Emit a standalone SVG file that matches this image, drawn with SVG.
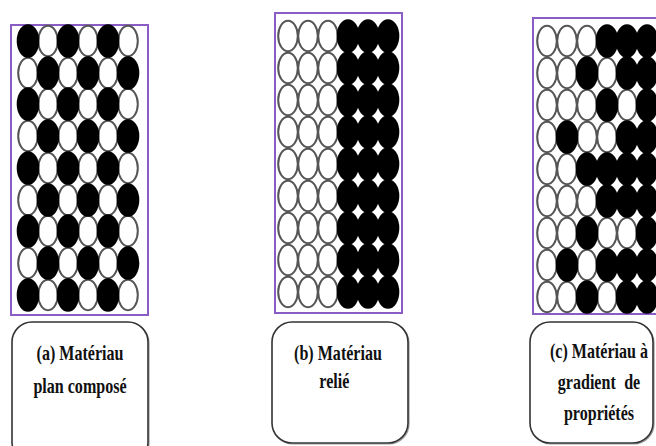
<svg xmlns="http://www.w3.org/2000/svg" xmlns:xlink="http://www.w3.org/1999/xlink" width="656" height="446" viewBox="0 0 656 446">
<style>
.frame{fill:#fff;stroke:#8a5cc6;stroke-width:2}
.box{fill:#fff;stroke:#333;stroke-width:1.6}
.shadow{fill:none;stroke:#999;stroke-width:1.2}
.lbl{font-family:"Liberation Serif","Times New Roman",serif;font-weight:bold;font-size:22px;fill:#111;text-anchor:middle}
.dots{filter:url(#soft)}
</style>
<defs>
<filter id="soft" x="-5%" y="-5%" width="110%" height="110%"><feGaussianBlur stdDeviation="0.6"/></filter>
<ellipse id="w" rx="9.8" ry="15.2" fill="#fff" stroke="#555" stroke-width="2"/>
<ellipse id="b" rx="11.3" ry="16.8" fill="#000"/>
</defs>
<rect width="656" height="446" fill="#fff"/>

<g id="panel-a">
<rect class="frame" x="11" y="25" width="137" height="290"/>
<g class="dots">
<g id="a-white">
<use xlink:href="#w" x="48" y="41"/><use xlink:href="#w" x="88" y="41"/><use xlink:href="#w" x="128" y="41"/>
<use xlink:href="#w" x="28" y="73"/><use xlink:href="#w" x="68" y="73"/><use xlink:href="#w" x="108" y="73"/>
<use xlink:href="#w" x="48" y="104"/><use xlink:href="#w" x="88" y="104"/><use xlink:href="#w" x="128" y="104"/>
<use xlink:href="#w" x="28" y="136"/><use xlink:href="#w" x="68" y="136"/><use xlink:href="#w" x="108" y="136"/>
<use xlink:href="#w" x="48" y="168"/><use xlink:href="#w" x="88" y="168"/><use xlink:href="#w" x="128" y="168"/>
<use xlink:href="#w" x="28" y="200"/><use xlink:href="#w" x="68" y="200"/><use xlink:href="#w" x="108" y="200"/>
<use xlink:href="#w" x="48" y="231"/><use xlink:href="#w" x="88" y="231"/><use xlink:href="#w" x="128" y="231"/>
<use xlink:href="#w" x="28" y="263"/><use xlink:href="#w" x="68" y="263"/><use xlink:href="#w" x="108" y="263"/>
<use xlink:href="#w" x="48" y="295"/><use xlink:href="#w" x="88" y="295"/><use xlink:href="#w" x="128" y="295"/>
</g>
<g id="a-black">
<use xlink:href="#b" x="28" y="41"/><use xlink:href="#b" x="68" y="41"/><use xlink:href="#b" x="108" y="41"/>
<use xlink:href="#b" x="48" y="73"/><use xlink:href="#b" x="88" y="73"/><use xlink:href="#b" x="128" y="73"/>
<use xlink:href="#b" x="28" y="104"/><use xlink:href="#b" x="68" y="104"/><use xlink:href="#b" x="108" y="104"/>
<use xlink:href="#b" x="48" y="136"/><use xlink:href="#b" x="88" y="136"/><use xlink:href="#b" x="128" y="136"/>
<use xlink:href="#b" x="28" y="168"/><use xlink:href="#b" x="68" y="168"/><use xlink:href="#b" x="108" y="168"/>
<use xlink:href="#b" x="48" y="200"/><use xlink:href="#b" x="88" y="200"/><use xlink:href="#b" x="128" y="200"/>
<use xlink:href="#b" x="28" y="231"/><use xlink:href="#b" x="68" y="231"/><use xlink:href="#b" x="108" y="231"/>
<use xlink:href="#b" x="48" y="263"/><use xlink:href="#b" x="88" y="263"/><use xlink:href="#b" x="128" y="263"/>
<use xlink:href="#b" x="28" y="295"/><use xlink:href="#b" x="68" y="295"/><use xlink:href="#b" x="108" y="295"/>
</g>
</g>
</g>

<g id="panel-b">
<rect class="frame" x="275" y="13" width="127" height="300"/>
<g class="dots">
<g id="b-white">
<use xlink:href="#w" x="288" y="36"/><use xlink:href="#w" x="308" y="36"/><use xlink:href="#w" x="328" y="36"/>
<use xlink:href="#w" x="288" y="68"/><use xlink:href="#w" x="308" y="68"/><use xlink:href="#w" x="328" y="68"/>
<use xlink:href="#w" x="288" y="100"/><use xlink:href="#w" x="308" y="100"/><use xlink:href="#w" x="328" y="100"/>
<use xlink:href="#w" x="288" y="132"/><use xlink:href="#w" x="308" y="132"/><use xlink:href="#w" x="328" y="132"/>
<use xlink:href="#w" x="288" y="164"/><use xlink:href="#w" x="308" y="164"/><use xlink:href="#w" x="328" y="164"/>
<use xlink:href="#w" x="288" y="196"/><use xlink:href="#w" x="308" y="196"/><use xlink:href="#w" x="328" y="196"/>
<use xlink:href="#w" x="288" y="228"/><use xlink:href="#w" x="308" y="228"/><use xlink:href="#w" x="328" y="228"/>
<use xlink:href="#w" x="288" y="260"/><use xlink:href="#w" x="308" y="260"/><use xlink:href="#w" x="328" y="260"/>
<use xlink:href="#w" x="288" y="292"/><use xlink:href="#w" x="308" y="292"/><use xlink:href="#w" x="328" y="292"/>
</g>
<g id="b-black">
<use xlink:href="#b" x="348" y="36"/><use xlink:href="#b" x="368" y="36"/><use xlink:href="#b" x="388" y="36"/>
<use xlink:href="#b" x="348" y="68"/><use xlink:href="#b" x="368" y="68"/><use xlink:href="#b" x="388" y="68"/>
<use xlink:href="#b" x="348" y="100"/><use xlink:href="#b" x="368" y="100"/><use xlink:href="#b" x="388" y="100"/>
<use xlink:href="#b" x="348" y="132"/><use xlink:href="#b" x="368" y="132"/><use xlink:href="#b" x="388" y="132"/>
<use xlink:href="#b" x="348" y="164"/><use xlink:href="#b" x="368" y="164"/><use xlink:href="#b" x="388" y="164"/>
<use xlink:href="#b" x="348" y="196"/><use xlink:href="#b" x="368" y="196"/><use xlink:href="#b" x="388" y="196"/>
<use xlink:href="#b" x="348" y="228"/><use xlink:href="#b" x="368" y="228"/><use xlink:href="#b" x="388" y="228"/>
<use xlink:href="#b" x="348" y="260"/><use xlink:href="#b" x="368" y="260"/><use xlink:href="#b" x="388" y="260"/>
<use xlink:href="#b" x="348" y="292"/><use xlink:href="#b" x="368" y="292"/><use xlink:href="#b" x="388" y="292"/>
</g>
</g>
</g>

<g id="panel-c">
<rect class="frame" x="533" y="18" width="130" height="296"/>
<g class="dots">
<g id="c-white">
<use xlink:href="#w" x="547" y="41"/><use xlink:href="#w" x="567" y="41"/><use xlink:href="#w" x="587" y="41"/>
<use xlink:href="#w" x="547" y="73"/><use xlink:href="#w" x="567" y="73"/><use xlink:href="#w" x="607" y="73"/>
<use xlink:href="#w" x="547" y="105"/><use xlink:href="#w" x="567" y="105"/><use xlink:href="#w" x="587" y="105"/><use xlink:href="#w" x="627" y="105"/>
<use xlink:href="#w" x="547" y="137"/><use xlink:href="#w" x="587" y="137"/><use xlink:href="#w" x="607" y="137"/>
<use xlink:href="#w" x="547" y="169"/><use xlink:href="#w" x="567" y="169"/>
<use xlink:href="#w" x="547" y="201"/><use xlink:href="#w" x="567" y="201"/><use xlink:href="#w" x="587" y="201"/>
<use xlink:href="#w" x="547" y="233"/><use xlink:href="#w" x="567" y="233"/><use xlink:href="#w" x="607" y="233"/><use xlink:href="#w" x="627" y="233"/>
<use xlink:href="#w" x="547" y="265"/><use xlink:href="#w" x="587" y="265"/>
<use xlink:href="#w" x="547" y="297"/><use xlink:href="#w" x="567" y="297"/><use xlink:href="#w" x="607" y="297"/>
</g>
<g id="c-black">
<use xlink:href="#b" x="607" y="41"/><use xlink:href="#b" x="627" y="41"/><use xlink:href="#b" x="647" y="41"/>
<use xlink:href="#b" x="587" y="73"/><use xlink:href="#b" x="627" y="73"/><use xlink:href="#b" x="647" y="73"/>
<use xlink:href="#b" x="607" y="105"/><use xlink:href="#b" x="647" y="105"/>
<use xlink:href="#b" x="567" y="137"/><use xlink:href="#b" x="627" y="137"/><use xlink:href="#b" x="647" y="137"/>
<use xlink:href="#b" x="587" y="169"/><use xlink:href="#b" x="607" y="169"/><use xlink:href="#b" x="627" y="169"/><use xlink:href="#b" x="647" y="169"/>
<use xlink:href="#b" x="607" y="201"/><use xlink:href="#b" x="627" y="201"/><use xlink:href="#b" x="647" y="201"/>
<use xlink:href="#b" x="587" y="233"/><use xlink:href="#b" x="647" y="233"/>
<use xlink:href="#b" x="567" y="265"/><use xlink:href="#b" x="607" y="265"/><use xlink:href="#b" x="627" y="265"/><use xlink:href="#b" x="647" y="265"/>
<use xlink:href="#b" x="587" y="297"/><use xlink:href="#b" x="627" y="297"/><use xlink:href="#b" x="647" y="297"/>
</g>
</g>
</g>

<g id="label-a">
<rect class="shadow" x="13" y="323" width="136" height="140" rx="20"/>
<rect class="box" x="12" y="322" width="136" height="140" rx="20"/>
<g transform="translate(80,0) scale(0.73,1)">
<text class="lbl" x="0" y="360">(a) Matériau</text>
<text class="lbl" x="0" y="393">plan composé</text>
</g>
</g>

<g id="label-b">
<rect class="shadow" x="273" y="323" width="136" height="121" rx="20"/>
<rect class="box" x="272" y="322" width="136" height="121" rx="20"/>
<g transform="translate(338,0) scale(0.73,1)">
<text class="lbl" x="0" y="360">(b) Matériau</text>
<text class="lbl" x="-5" y="388">relié</text>
</g>
</g>

<g id="label-c">
<rect class="shadow" x="531" y="323" width="123" height="121" rx="20"/>
<rect class="box" x="530" y="322" width="123" height="121" rx="20"/>
<g transform="translate(599,0) scale(0.73,1)">
<text class="lbl" x="0" y="358">(c) Matériau à</text>
<text class="lbl" x="0" y="389" word-spacing="6">gradient de</text>
<text class="lbl" x="0" y="420">propriétés</text>
</g>
</g>
</svg>
